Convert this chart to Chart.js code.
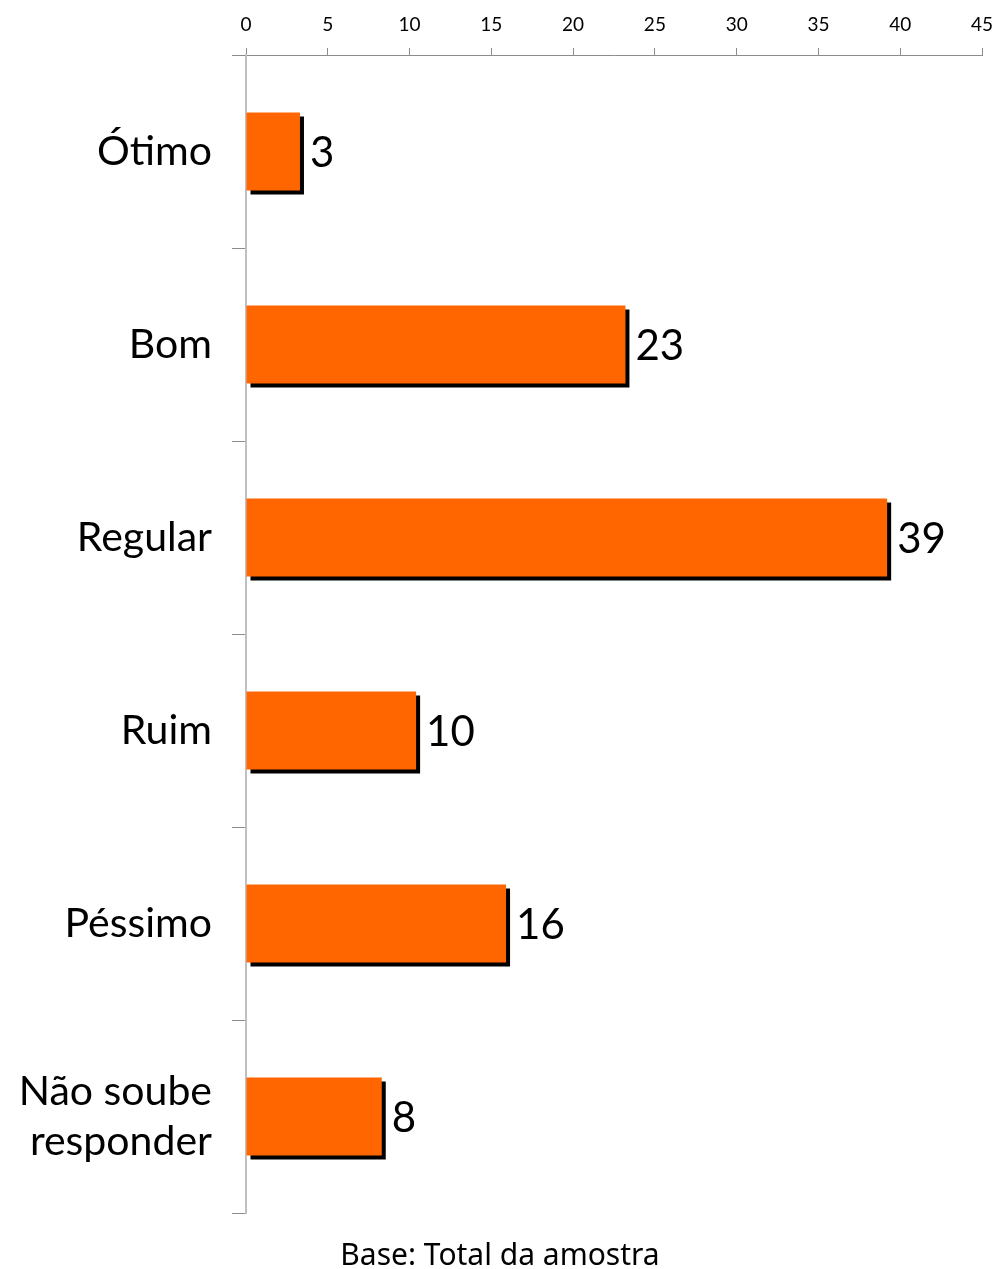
<!DOCTYPE html>
<html>
<head>
<meta charset="utf-8">
<script src="https://cdn.jsdelivr.net/npm/chart.js@4/dist/chart.umd.min.js"></script>
<style>
  body { margin: 0; background: #fff; }
</style>
</head>
<body>
<canvas id="myChart" width="994" height="1269"></canvas>
<script>
// dati
var categorie = ['Ótimo', 'Bom', 'Regular', 'Ruim', 'Péssimo', ['Não soube', 'responder']];
var valori = [3.3, 23.2, 39.2, 10.4, 15.9, 8.3];
var etichette = ['3', '23', '39', '10', '16', '8'];
var tickX = [0, 5, 10, 15, 20, 25, 30, 35, 40, 45];
var nota = 'Base: Total da amostra';

// ombra nera sotto le barre
var ombraBarre = {
    id: 'ombraBarre',
    beforeDatasetDraw: function (chart) {
        var c = chart.ctx;
        c.save();
        c.shadowColor = '#000000';
        c.shadowOffsetX = 4;
        c.shadowOffsetY = 4;
        c.shadowBlur = 0;
    },
    afterDatasetDraw: function (chart) {
        chart.ctx.restore();
    }
};

// valori accanto alle barre + nota in fondo
var testi = {
    id: 'testi',
    afterDraw: function (chart) {
        var c = chart.ctx;
        var meta = chart.getDatasetMeta(0);
        c.save();
        c.fillStyle = '#000';
        c.font = '42px Lato';
        c.textAlign = 'left';
        c.textBaseline = 'middle';
        meta.data.forEach(function (bar, i) {
            c.fillText(etichette[i], bar.x + 10, bar.y + 2);
        });
        c.font = '30px "Noto Sans"';
        c.textAlign = 'center';
        c.textBaseline = 'alphabetic';
        c.fillText(nota, 500, 1265);
        c.restore();
    }
};

var ctx = document.getElementById('myChart');
var myChart = new Chart(ctx, {
    type: 'bar',
    data: {
        labels: categorie,
        datasets: [{
            data: valori,
            backgroundColor: '#FF6600',
            borderWidth: 0,
            categoryPercentage: 1,
            barPercentage: 0.404
        }]
    },
    options: {
        indexAxis: 'y',
        responsive: false,
        animation: false,
        layout: { padding: { top: 0, left: 0, right: 12, bottom: 56 } },
        plugins: {
            legend: { display: false },
            tooltip: { enabled: false }
        },
        scales: {
            x: {
                position: 'top',
                min: 0,
                max: 45,
                afterBuildTicks: function (scale) {
                    scale.ticks = tickX.map(function (v) { return { value: v }; });
                },
                afterFit: function (scale) {
                    scale.height = 55;
                    scale.paddingLeft = 0;
                    scale.paddingRight = 0;
                },
                border: { color: '#8c8c8c', width: 1 },
                grid: { drawOnChartArea: false, tickLength: 7, color: '#8c8c8c' },
                ticks: {
                    color: '#000',
                    padding: 12,
                    maxRotation: 0,
                    font: { family: 'Lato', size: 19 }
                }
            },
            y: {
                afterFit: function (scale) {
                    scale.width = 246;
                    scale.paddingTop = 0;
                    scale.paddingBottom = 0;
                },
                border: { color: '#bfbfbf', width: 2 },
                grid: { drawOnChartArea: false, offset: true, tickLength: 14, color: '#8c8c8c' },
                ticks: {
                    color: '#000',
                    padding: 20,
                    font: { family: 'Lato', size: 41, lineHeight: 1.22 }
                }
            }
        }
    },
    plugins: [ombraBarre, testi]
});
</script>
</body>
</html>
